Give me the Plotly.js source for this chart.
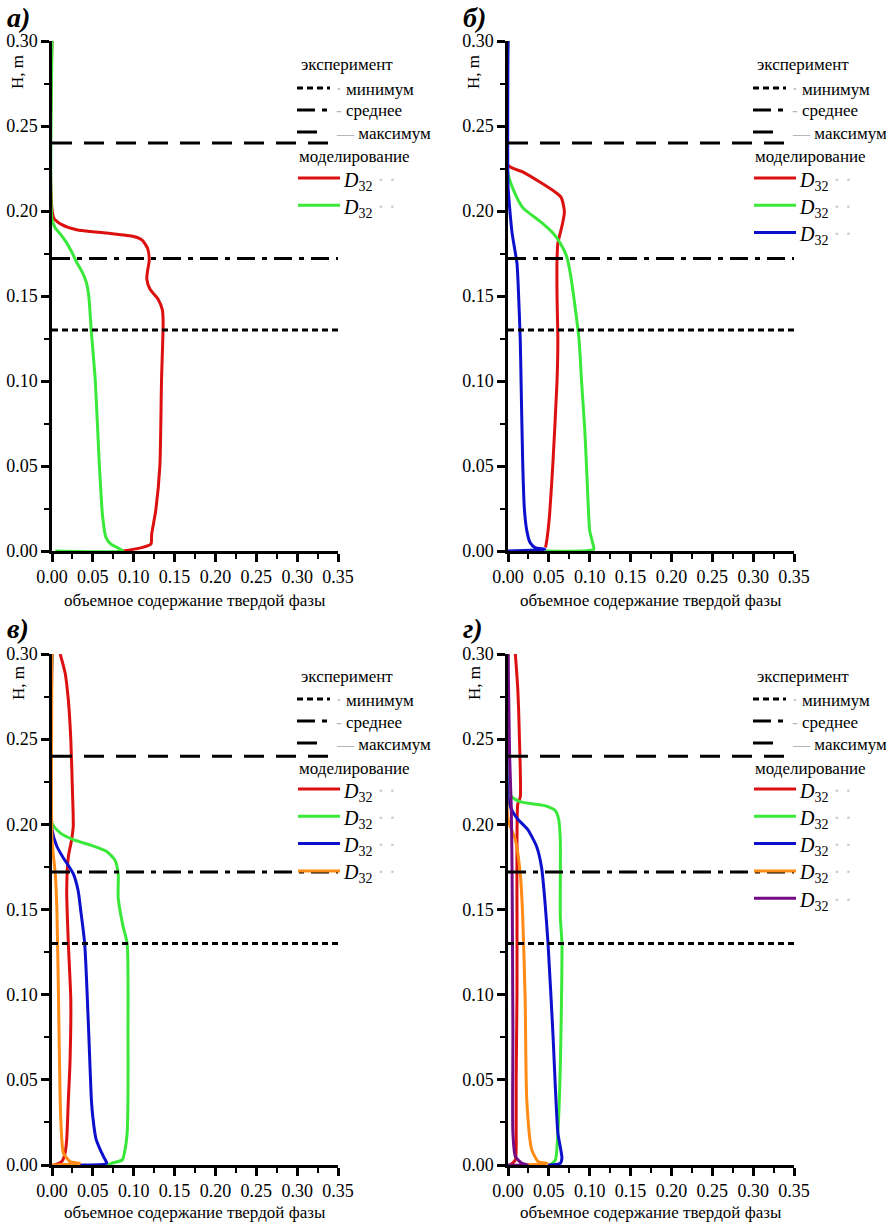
<!DOCTYPE html>
<html><head><meta charset="utf-8">
<script src="https://cdn.plot.ly/plotly-3.0.1.min.js"></script>
<style>
html,body{margin:0;padding:0;background:#fff}
#plot{width:886px;height:1229px}
svg text, svg tspan{font-family:'Liberation Serif','Times New Roman',serif !important}
</style>
</head><body><div id="plot"></div>
<script>
// ---------- data ----------
const xTicks = [0, 0.05, 0.10, 0.15, 0.20, 0.25, 0.30, 0.35];
const yTicks = [0, 0.05, 0.10, 0.15, 0.20, 0.25, 0.30];
const expLevels = [0.13, 0.172, 0.24];          // минимум, среднее, максимум
const expNames = ['минимум', 'среднее', 'максимум'];
const panelLabels = ['а)', 'б)', 'в)', 'г)'];

// panel а
const a_red_v   = [0, 0.002, 0.012, 0.030, 0.067, 0.100, 0.110, 0.117, 0.119, 0.117, 0.116, 0.120, 0.130, 0.135, 0.136, 0.134, 0.132, 0.127, 0.122, 0.121, 0.110, 0.087];
const a_red_h   = [0.30, 0.196, 0.192, 0.189, 0.187, 0.185, 0.183, 0.178, 0.171, 0.165, 0.160, 0.154, 0.148, 0.142, 0.135, 0.10, 0.05, 0.024, 0.010, 0.004, 0.002, 0.0];
const a_green_v = [0, 0, 0.004, 0.011, 0.017, 0.024, 0.030, 0.037, 0.042, 0.045, 0.048, 0.053, 0.058, 0.062, 0.066, 0.072, 0.080, 0.087, 0.004];
const a_green_h = [0.30, 0.195, 0.190, 0.186, 0.182, 0.176, 0.170, 0.164, 0.158, 0.150, 0.130, 0.10, 0.05, 0.02, 0.008, 0.004, 0.002, 0.0, 0.0];

// panel б
const b_red_v   = [0, 0, 0.018, 0.039, 0.058, 0.065, 0.068, 0.069, 0.066, 0.061, 0.060, 0.060, 0.061, 0.060, 0.055, 0.051, 0.048, 0.046];
const b_red_h   = [0.30, 0.227, 0.223, 0.217, 0.211, 0.208, 0.203, 0.199, 0.191, 0.181, 0.171, 0.150, 0.124, 0.10, 0.052, 0.022, 0.008, 0.002];
const b_green_v = [0, 0, 0.007, 0.018, 0.039, 0.055, 0.064, 0.072, 0.076, 0.082, 0.087, 0.090, 0.094, 0.097, 0.100, 0.104, 0.105, 0.046];
const b_green_h = [0.30, 0.222, 0.212, 0.202, 0.194, 0.187, 0.181, 0.173, 0.164, 0.144, 0.124, 0.10, 0.071, 0.04, 0.012, 0.004, 0.001, 0.0];
const b_blue_v  = [0, 0, 0.002, 0.005, 0.011, 0.013, 0.015, 0.016, 0.018, 0.020, 0.023, 0.027, 0.033, 0.045, 0.0];
const b_blue_h  = [0.30, 0.215, 0.202, 0.187, 0.169, 0.150, 0.124, 0.10, 0.052, 0.025, 0.012, 0.005, 0.002, 0.001, 0.0];

// panel в
const c_red_v    = [0.010, 0.016, 0.020, 0.023, 0.025, 0.026, 0.024, 0.020, 0.018, 0.020, 0.023, 0.022, 0.020, 0.018, 0.016, 0.012, 0.003];
const c_red_h    = [0.30, 0.289, 0.273, 0.250, 0.220, 0.199, 0.191, 0.181, 0.161, 0.130, 0.097, 0.060, 0.038, 0.015, 0.007, 0.002, 0.0];
const c_green_v  = [0, 0, 0.010, 0.026, 0.046, 0.067, 0.077, 0.081, 0.081, 0.087, 0.092, 0.093, 0.093, 0.092, 0.089, 0.086, 0.073, 0.068];
const c_green_h  = [0.30, 0.201, 0.195, 0.191, 0.188, 0.184, 0.179, 0.171, 0.157, 0.140, 0.130, 0.077, 0.040, 0.019, 0.008, 0.003, 0.001, 0.0];
const c_blue_v   = [0, 0, 0.006, 0.013, 0.026, 0.032, 0.035, 0.040, 0.045, 0.048, 0.050, 0.054, 0.059, 0.064, 0.067, 0.034];
const c_blue_h   = [0.30, 0.197, 0.187, 0.181, 0.171, 0.161, 0.150, 0.130, 0.077, 0.040, 0.028, 0.015, 0.009, 0.004, 0.001, 0.0];
const c_orange_v = [0, 0, 0.004, 0.006, 0.008, 0.010, 0.012, 0.014, 0.022, 0.034, 0.0];
const c_orange_h = [0.30, 0.191, 0.171, 0.150, 0.097, 0.038, 0.015, 0.007, 0.002, 0.001, 0.0];

// panel г
const d_red_v    = [0.009, 0.012, 0.014, 0.015, 0.012, 0.011, 0.011, 0.011, 0.010, 0.010, 0.009, 0.003];
const d_red_h    = [0.30, 0.279, 0.250, 0.216, 0.212, 0.191, 0.146, 0.10, 0.05, 0.019, 0.003, 0.0];
const d_green_v  = [0, 0, 0.005, 0.017, 0.045, 0.058, 0.062, 0.064, 0.064, 0.066, 0.064, 0.061, 0.058, 0.052];
const d_green_h  = [0.30, 0.220, 0.216, 0.213, 0.211, 0.208, 0.203, 0.191, 0.146, 0.130, 0.058, 0.019, 0.003, 0.0];
const d_blue_v   = [0, 0, 0.005, 0.012, 0.024, 0.035, 0.041, 0.045, 0.049, 0.055, 0.061, 0.066, 0.064, 0.049];
const d_blue_h   = [0.30, 0.216, 0.208, 0.203, 0.197, 0.187, 0.175, 0.156, 0.130, 0.077, 0.019, 0.004, 0.001, 0.0];
const d_orange_v = [0, 0, 0.009, 0.015, 0.018, 0.021, 0.023, 0.029, 0.037, 0.048, 0.020];
const d_orange_h = [0.30, 0.203, 0.191, 0.171, 0.146, 0.097, 0.038, 0.009, 0.002, 0.001, 0.0];
const d_purple_v = [0.0, 0.001, 0.002, 0.004, 0.005, 0.006, 0.006, 0.009, 0.017, 0.024, 0.0];
const d_purple_h = [0.30, 0.27, 0.24, 0.21, 0.171, 0.077, 0.019, 0.005, 0.001, 0.0, 0.0];

// ---------- styles ----------
const COL = {red:'#dd1010', green:'#3ae83a', blue:'#0c10cc', orange:'#ff8a14', purple:'#730a86'};
const FONT = 'Liberation Serif';
const W = 886, H = 1229;
const px = v => v / W, py = v => 1 - v / H;
const DASH = ['6px,4px', '18px,7px,5px,7px', '20px,12px'];

const panels = [
  {xa:'x',  ya:'y',  xd:[52,338],  yd:[41,551],   dx:0,   dy:0,
   series:[[a_red_v,a_red_h,'red'],[a_green_v,a_green_h,'green']]},
  {xa:'x2', ya:'y2', xd:[508,794], yd:[41,551],   dx:456, dy:0,
   series:[[b_red_v,b_red_h,'red'],[b_green_v,b_green_h,'green'],[b_blue_v,b_blue_h,'blue']]},
  {xa:'x3', ya:'y3', xd:[52,338],  yd:[654,1165], dx:0,   dy:611,
   series:[[c_red_v,c_red_h,'red'],[c_green_v,c_green_h,'green'],[c_blue_v,c_blue_h,'blue'],[c_orange_v,c_orange_h,'orange']]},
  {xa:'x4', ya:'y4', xd:[508,794], yd:[654,1165], dx:456, dy:611,
   series:[[d_red_v,d_red_h,'red'],[d_green_v,d_green_h,'green'],[d_blue_v,d_blue_h,'blue'],[d_orange_v,d_orange_h,'orange'],[d_purple_v,d_purple_h,'purple']]}
];

function build() {
  const traces = [], shapes = [], annotations = [];
  const layout = {width:W, height:H, margin:{l:0,r:0,t:0,b:0}, paper_bgcolor:'#ffffff', plot_bgcolor:'#ffffff',
    showlegend:false, hovermode:false, font:{family:FONT, color:'#000000', size:17}};

  panels.forEach((p, i) => {
    const xk = p.xa === 'x' ? 'xaxis' : 'xaxis' + p.xa.slice(1);
    const yk = p.ya === 'y' ? 'yaxis' : 'yaxis' + p.ya.slice(1);
    const common = {showgrid:false, zeroline:false, showline:true, linecolor:'#000000', linewidth:2.5,
      ticks:'outside', ticklen:8, tickwidth:2.5, tickcolor:'#000000', tickformat:'.2f',
      tickfont:{family:FONT, size:18, color:'#000000'},
      minor:{ticks:'outside', ticklen:5, tickwidth:2, tickcolor:'#000000', showgrid:false}};
    layout[xk] = Object.assign({}, common, {anchor:p.ya, range:[0,0.35], tickvals:xTicks,
      domain:[px(p.xd[0]), px(p.xd[1])], minor:Object.assign({}, common.minor, {dtick:0.025, tick0:0})});
    layout[yk] = Object.assign({}, common, {anchor:p.xa, range:[0,0.30], tickvals:yTicks,
      domain:[py(p.yd[1]), py(p.yd[0])], minor:Object.assign({}, common.minor, {dtick:0.025, tick0:0})});

    p.series.forEach(s => traces.push({type:'scatter', mode:'lines', x:s[0], y:s[1], xaxis:p.xa, yaxis:p.ya,
      line:{color:COL[s[2]], width:3, shape:'spline', smoothing:0.6}}));

    expLevels.forEach((lv, k) => shapes.push({type:'line', xref:p.xa, yref:p.ya, x0:0, x1:0.35, y0:lv, y1:lv,
      line:{color:'#000000', width:3, dash:DASH[k]}}));

    // panel label and axis titles
    annotations.push({xref:'paper', yref:'paper', x:px(5 + p.dx), y:py(17 + p.dy), xanchor:'left', yanchor:'middle',
      text:'<b><i>' + panelLabels[i] + '</i></b>', showarrow:false, font:{family:FONT, size:28, color:'#000000'}});
    annotations.push({xref:'paper', yref:'paper', x:px(18 + p.dx), y:py(72 + p.dy), xanchor:'center', yanchor:'middle',
      textangle:-90, text:'H, m', showarrow:false, font:{family:FONT, size:17, color:'#000000'}});
    annotations.push({xref:'paper', yref:'paper', x:px(195 + p.dx), y:py(601 + p.dy), xanchor:'center', yanchor:'middle',
      text:'объемное содержание твердой фазы', showarrow:false, font:{family:FONT, size:17, color:'#000000'}});

    // legend block
    const L0 = 297 + p.dx;
    const rowY = [65, 88, 110, 132, 157];
    annotations.push({xref:'paper', yref:'paper', x:px(299 + p.dx), y:py(rowY[0] + p.dy), xanchor:'left', yanchor:'middle',
      text:'эксперимент', showarrow:false, font:{family:FONT, size:17, color:'#000000'}});
    const grayMark = ['·', '-', '—'];
    expNames.forEach((nm, k) => {
      const yy = rowY[k+1] + p.dy;
      shapes.push({type:'line', xref:'paper', yref:'paper', x0:px(L0), x1:px(L0 + (k === 2 ? 27 : 33)), y0:py(yy), y1:py(yy),
        line:{color:'#000000', width:3, dash:DASH[k]}});
      annotations.push({xref:'paper', yref:'paper', x:px(334 + p.dx), y:py(yy + 1), xanchor:'left', yanchor:'middle',
        text:'<span style="color:#b8b8b8">' + grayMark[k] + '</span> ' + nm, showarrow:false,
        font:{family:FONT, size:17, color:'#000000'}});
    });
    annotations.push({xref:'paper', yref:'paper', x:px(297 + p.dx), y:py(rowY[4] + p.dy), xanchor:'left', yanchor:'middle',
      text:'моделирование', showarrow:false, font:{family:FONT, size:17, color:'#000000'}});
    p.series.forEach((s, k) => {
      const yy = 178 + p.dy + k * 27.3;
      shapes.push({type:'line', xref:'paper', yref:'paper', x0:px(L0 + 1), x1:px(L0 + 43), y0:py(yy), y1:py(yy),
        line:{color:COL[s[2]], width:3}});
      annotations.push({xref:'paper', yref:'paper', x:px(341 + p.dx), y:py(yy + 3), xanchor:'left', yanchor:'middle',
        text:'<i>D</i><sub>32</sub> <span style="color:#c8c8c8">· ·</span>', showarrow:false,
        font:{family:FONT, size:20, color:'#000000'}});
    });
  });
  layout.shapes = shapes;
  layout.annotations = annotations;
  return {traces, layout};
}

const fig = build();
Plotly.newPlot('plot', fig.traces, fig.layout, {displayModeBar:false});
if (document.fonts && document.fonts.ready) {
  document.fonts.ready.then(() => {
    const f = build();
    Plotly.newPlot('plot', f.traces, f.layout, {displayModeBar:false});
  }).catch(() => {});
}
</script></body></html>
